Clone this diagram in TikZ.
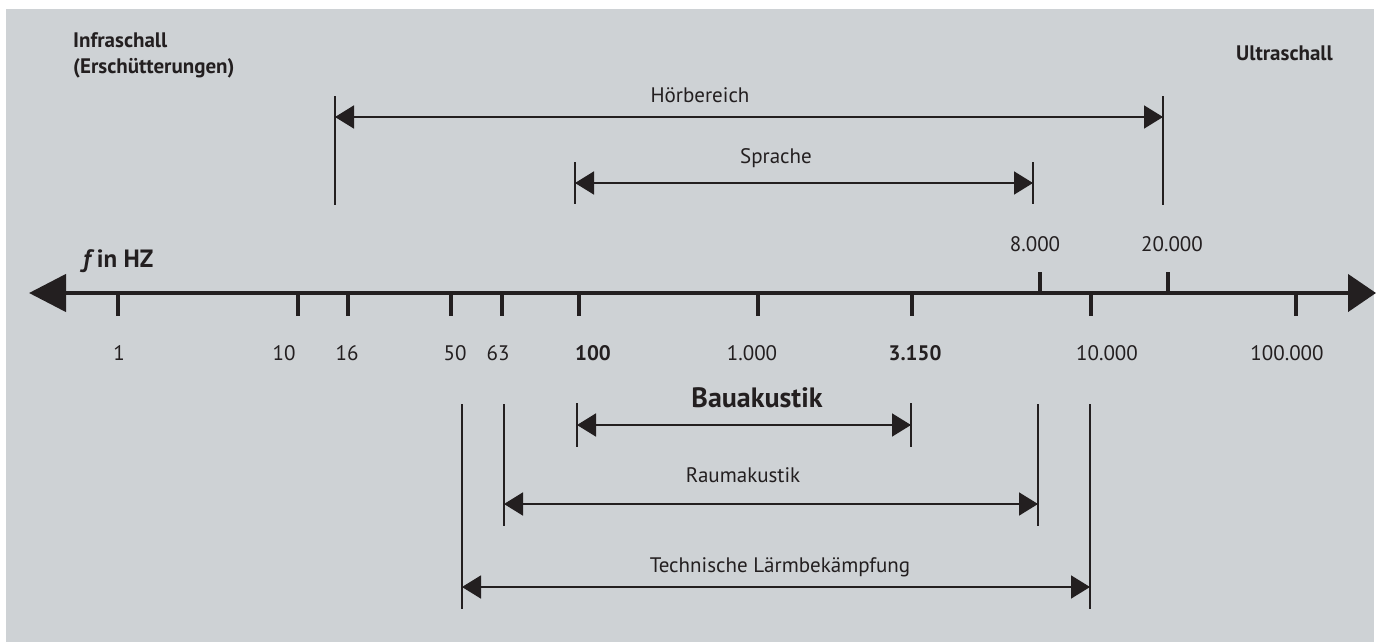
\documentclass[tikz,border=0pt]{standalone}
\usepackage{fontspec}
\setmainfont{PT Sans}
\usetikzlibrary{arrows.meta}
\definecolor{bg}{RGB}{206,210,213}
\definecolor{ink}{RGB}{35,31,32}
\begin{document}
\begin{tikzpicture}[x=1pt,y=-1pt,
  axisline/.style={line width=4.5pt, draw=ink, {Triangle[length=37pt,width=37pt]}-{Triangle[length=28pt,width=37pt]}},
  tickmark/.style={line width=4pt, draw=ink},
  bound/.style={line width=1.8pt, draw=ink},
  rangearrow/.style={line width=1.8pt, draw=ink, {Triangle[length=19pt,width=23pt]}-{Triangle[length=19pt,width=23pt]}},
  lbl/.style={font=\fontsize{21}{24}\selectfont, text=ink, inner sep=0pt},
  blbl/.style={font=\bfseries\fontsize{21}{24}\selectfont, text=ink, inner sep=0pt}
]
\useasboundingbox (0,0) rectangle (1376,642);
\fill[white] (0,0) rectangle (1376,642);
\fill[bg] (6,9) rectangle (1374,642);

% axis
\coordinate (axL) at (29,293);
\coordinate (axR) at (1376,293);
\draw[axisline] (axL) -- (axR);
\node[font=\bfseries\fontsize{25}{28}\selectfont, text=ink, inner sep=0pt, anchor=west] (fhz) at (83,261) {\itshape f\upshape\ in HZ};

% downward ticks and labels
\foreach \n/\tx/\lx/\t/\s in {t1/118/119/1/lbl, t10/298/284/10/lbl, t16/348/347/16/lbl, t50/451/455/50/lbl, t63/502/498/63/lbl, t100/579/593/100/blbl, t1000/758/752/1.000/lbl, t3150/912/915/3.150/blbl, t10000/1091/1107/10.000/lbl, t100000/1296/1287/100.000/lbl}{
  \coordinate (\n a) at (\tx,293);
  \coordinate (\n b) at (\tx,316);
  \draw[tickmark] (\n a) -- (\n b);
  \node[\s] (\n l) at (\lx,353) {\t};
}
% upward ticks
\foreach \n/\tx/\lx/\t in {t8000/1040/1035/8.000, t20000/1168/1172/20.000}{
  \coordinate (\n a) at (\tx,293);
  \coordinate (\n b) at (\tx,272);
  \draw[tickmark] (\n a) -- (\n b);
  \node[lbl] (\n l) at (\lx,244) {\t};
}

% top labels
\node[blbl, anchor=west, align=left, font=\bfseries\fontsize{21}{26}\selectfont] (infra) at (73,55) {Infraschall\\(Erschütterungen)};
\node[blbl, anchor=east] (ultra) at (1333,53) {Ultraschall};

% Hoerbereich
\coordinate (hL1) at (335,96); \coordinate (hL2) at (335,205);
\coordinate (hR1) at (1163,96); \coordinate (hR2) at (1163,205);
\coordinate (hA) at (335,117); \coordinate (hB) at (1163,117);
\draw[bound] (hL1) -- (hL2);
\draw[bound] (hR1) -- (hR2);
\draw[rangearrow] (hA) -- (hB);
\node[lbl] (hlab) at (700,95) {Hörbereich};

% Sprache
\coordinate (sL1) at (575,162); \coordinate (sL2) at (575,204);
\coordinate (sR1) at (1033,162); \coordinate (sR2) at (1033,204);
\coordinate (sA) at (575,183); \coordinate (sB) at (1033,183);
\draw[bound] (sL1) -- (sL2);
\draw[bound] (sR1) -- (sR2);
\draw[rangearrow] (sA) -- (sB);
\node[lbl] (slab) at (776,158) {Sprache};

% Bauakustik
\coordinate (bL1) at (577,403); \coordinate (bL2) at (577,447);
\coordinate (bR1) at (911,403); \coordinate (bR2) at (911,447);
\coordinate (bA) at (577,425); \coordinate (bB) at (911,425);
\draw[bound] (bL1) -- (bL2);
\draw[bound] (bR1) -- (bR2);
\draw[rangearrow] (bA) -- (bB);
\node[font=\bfseries\fontsize{28}{32}\selectfont, text=ink, inner sep=0pt] (blab) at (757,398) {Bauakustik};

% Raumakustik
\coordinate (rL1) at (504,404); \coordinate (rL2) at (504,526);
\coordinate (rR1) at (1038,404); \coordinate (rR2) at (1038,526);
\coordinate (rA) at (504,504); \coordinate (rB) at (1038,504);
\draw[bound] (rL1) -- (rL2);
\draw[bound] (rR1) -- (rR2);
\draw[rangearrow] (rA) -- (rB);
\node[lbl] (rlab) at (743,475) {Raumakustik};

% Technische Laermbekaempfung
\coordinate (tL1) at (462,404); \coordinate (tL2) at (462,609);
\coordinate (tR1) at (1090,404); \coordinate (tR2) at (1090,609);
\coordinate (tA) at (462,587); \coordinate (tB) at (1090,587);
\draw[bound] (tL1) -- (tL2);
\draw[bound] (tR1) -- (tR2);
\draw[rangearrow] (tA) -- (tB);
\node[lbl] (tlab) at (780,567) {Technische Lärmbekämpfung};
\end{tikzpicture}
\end{document}
